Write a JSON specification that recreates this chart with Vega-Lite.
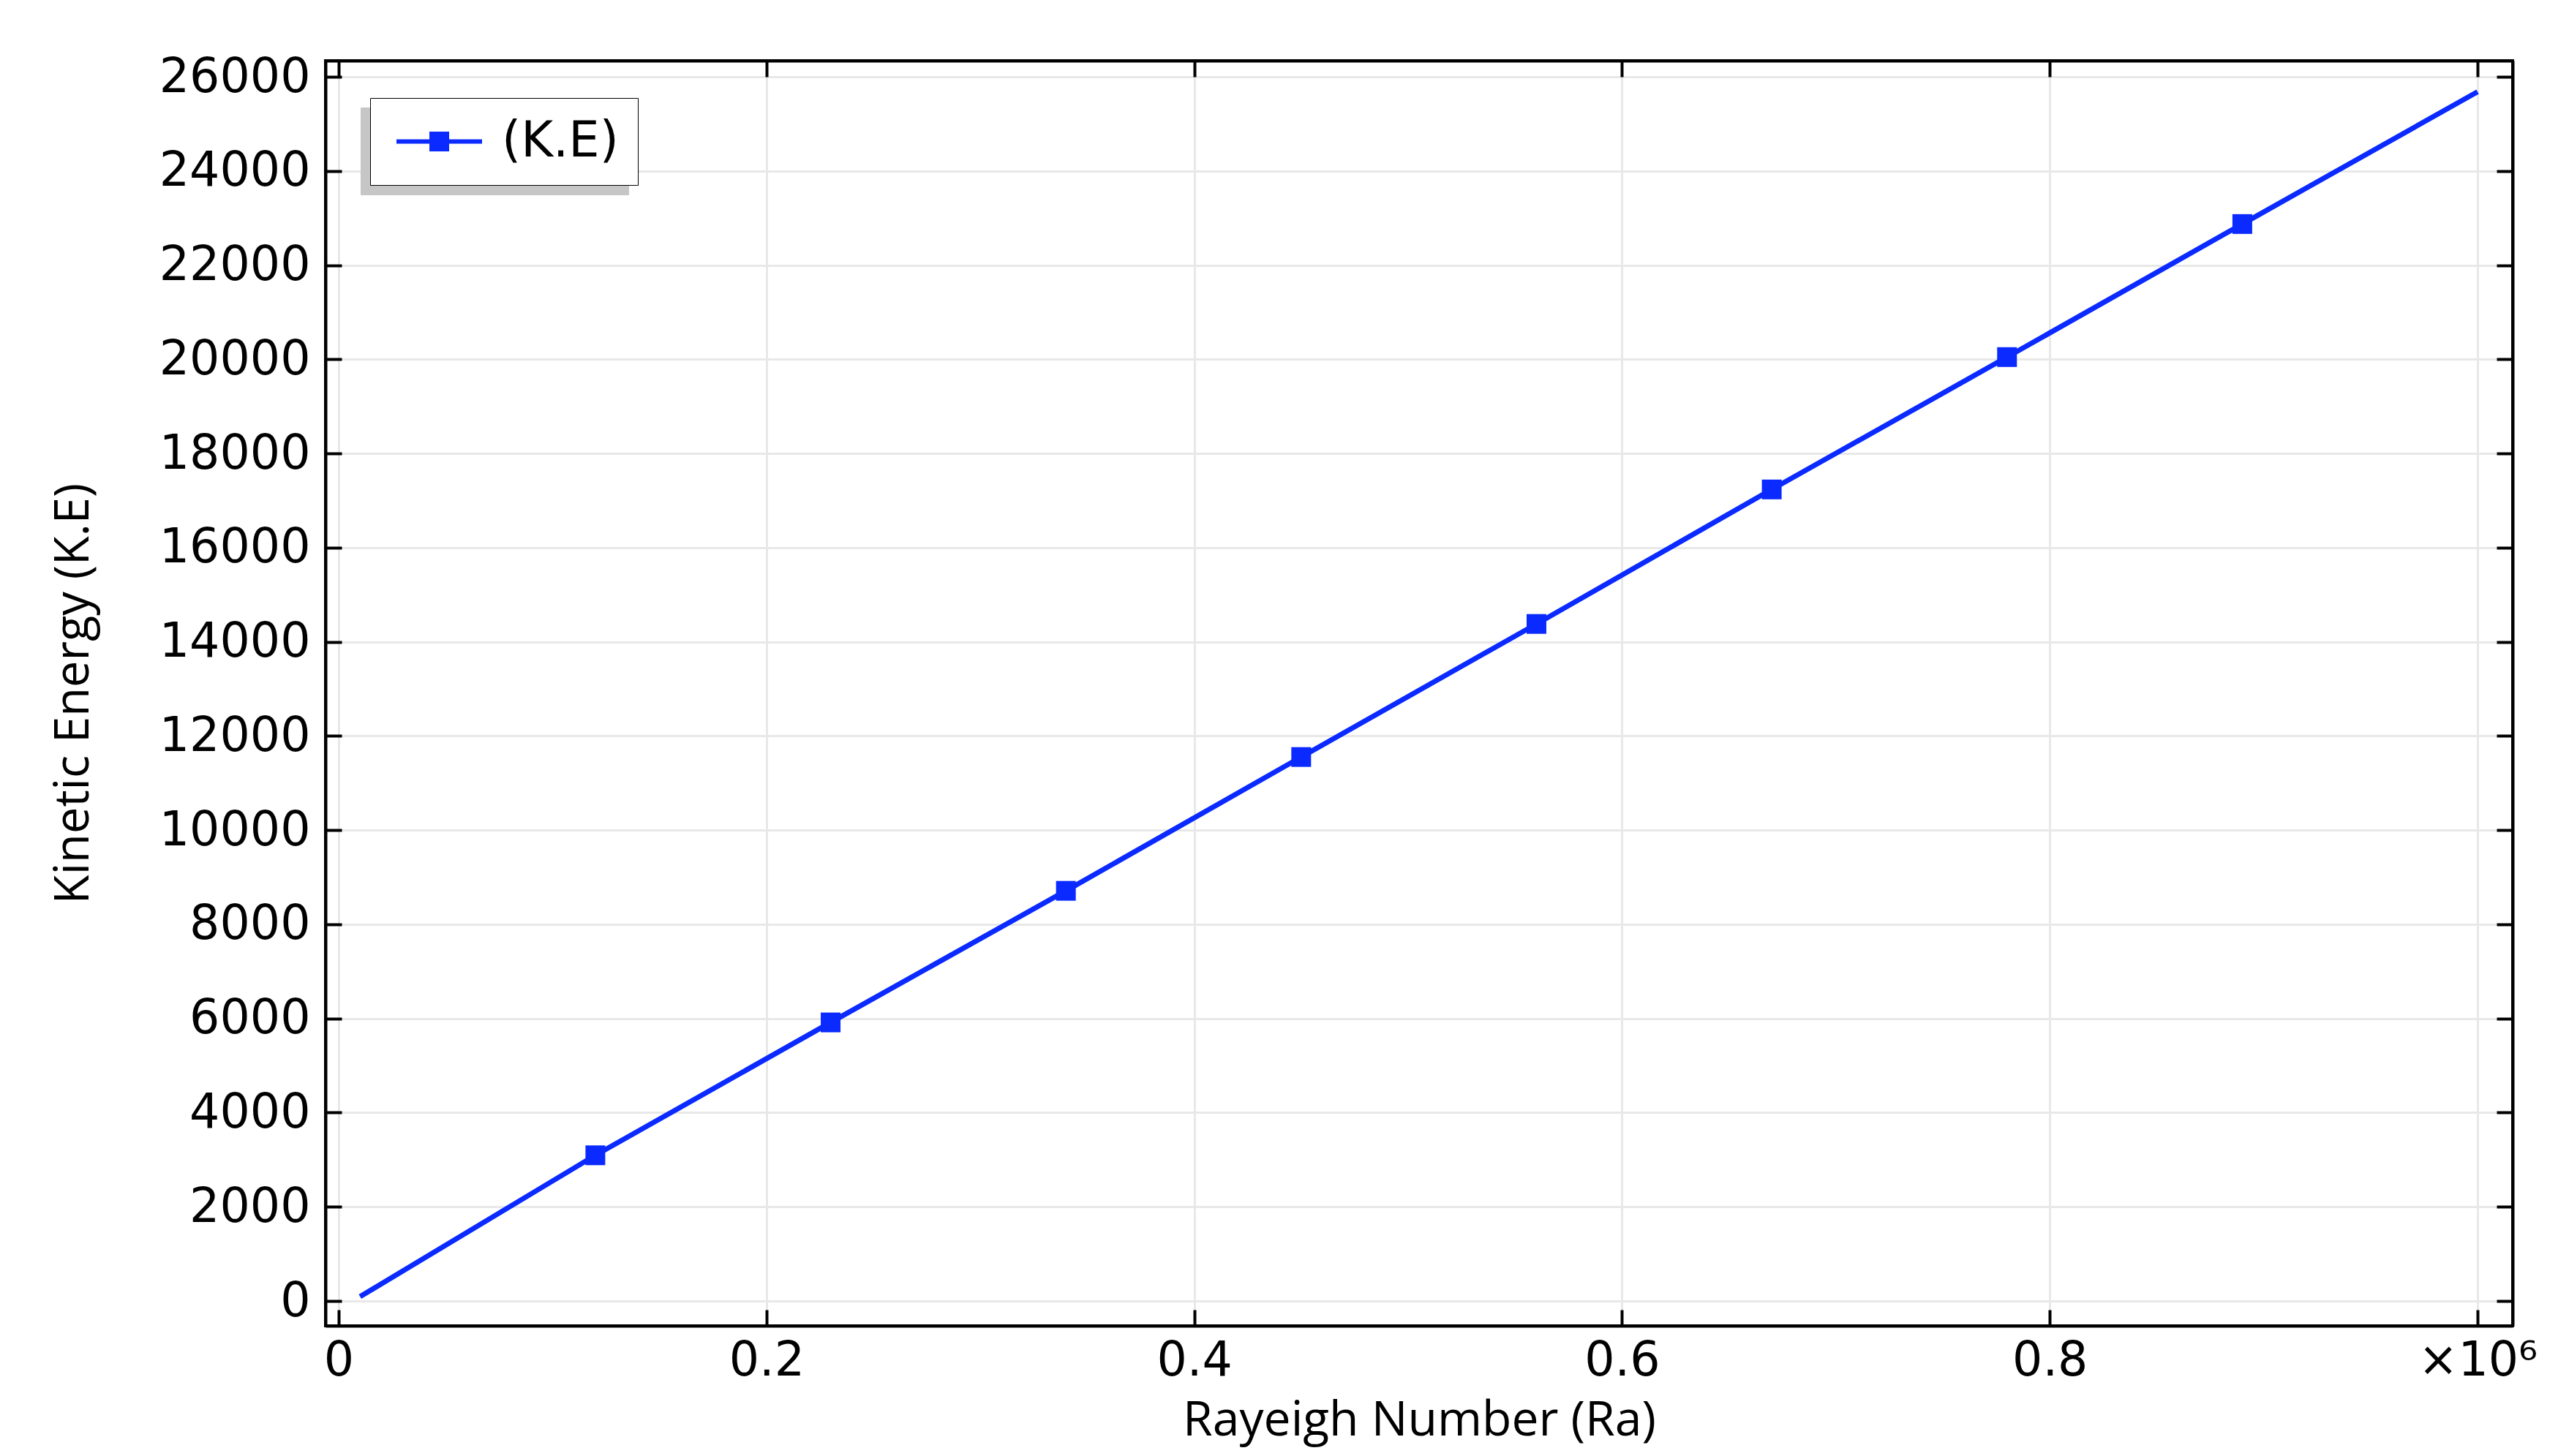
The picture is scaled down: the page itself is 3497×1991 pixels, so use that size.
{
  "$schema": "https://vega.github.io/schema/vega-lite/v6.json",
  "width": 2990,
  "height": 1730,
  "autosize": {"type": "none"},
  "padding": {"left": 445, "top": 83, "right": 62, "bottom": 178},
  "background": "white",
  "data": {
    "values": [
      {"Ra": 10000, "KE": 93},
      {"Ra": 120000, "KE": 3094},
      {"Ra": 230000, "KE": 5916},
      {"Ra": 340000, "KE": 8711},
      {"Ra": 450000, "KE": 11553},
      {"Ra": 560000, "KE": 14379},
      {"Ra": 670000, "KE": 17236},
      {"Ra": 780000, "KE": 20047},
      {"Ra": 890000, "KE": 22873},
      {"Ra": 1000000, "KE": 25683}
    ]
  },
  "config": {
    "view": {"stroke": "black", "strokeWidth": 4},
    "axis": {
      "domainColor": "black",
      "domainWidth": 4,
      "tickColor": "black",
      "tickWidth": 4,
      "tickSize": -22,
      "gridColor": "#e8e8e8",
      "gridWidth": 3,
      "labelFont": "DejaVu Sans",
      "labelFontSize": 65,
      "labelColor": "black",
      "labelFlush": false,
      "labelOverlap": false,
      "labelLimit": 0,
      "titleFont": "Open Sans",
      "titleColor": "black",
      "titleFontWeight": "normal",
      "titleLimit": 0
    }
  },
  "layer": [
    {
      "mark": {"type": "line", "color": "#0a2aff", "strokeWidth": 7, "clip": true},
      "encoding": {
        "x": {
          "field": "Ra",
          "type": "quantitative",
          "scale": {"domain": [-6160, 1016400], "nice": false, "zero": false},
          "axis": {
            "orient": "bottom",
            "values": [0, 200000, 400000, 600000, 800000, 1000000],
            "labelExpr": "datum.value == 1000000 ? '×10⁶' : format(datum.value / 1000000, '~g')",
            "labelPadding": 38,
            "title": "Rayeigh Number (Ra)",
            "titleFontSize": 66,
            "titleX": 1495,
            "titleY": 149,
            "titleBaseline": "alphabetic",
            "titleAlign": "center"
          }
        },
        "y": {
          "field": "KE",
          "type": "quantitative",
          "scale": {"domain": [-528, 26342], "nice": false, "zero": false},
          "axis": {
            "orient": "left",
            "values": [0, 2000, 4000, 6000, 8000, 10000, 12000, 14000, 16000, 18000, 20000, 22000, 24000, 26000],
            "format": "d",
            "labelPadding": 43,
            "title": "Kinetic Energy (K.E)",
            "titleFontSize": 65,
            "titleX": -345,
            "titleY": 865,
            "titleAngle": -90,
            "titleBaseline": "middle",
            "titleAlign": "center"
          }
        },
        "opacity": {
          "datum": "shadow",
          "scale": {"domain": ["shadow"], "range": [1]},
          "legend": {
            "orient": "none",
            "legendX": 48,
            "legendY": 64,
            "zindex": 0,
            "title": null,
            "strokeColor": "#c6c6c6",
            "fillColor": "#c6c6c6",
            "padding": 26,
            "symbolType": "M-1.95,-0.1H1.95V0.1H-1.95Z M-0.45,-0.45H0.45V0.45H-0.45Z",
            "symbolSize": 3600,
            "symbolOffset": 35,
            "symbolStrokeWidth": 0,
            "symbolOpacity": 0,
            "labelExpr": "''",
            "labelOffset": 212,
            "labelFont": "DejaVu Sans",
            "labelFontSize": 67,
            "labelOpacity": 0,
            "labelLimit": 0
          }
        }
      }
    },
    {
      "transform": [{"filter": "datum.Ra > 50000 && datum.Ra < 950000"}],
      "mark": {"type": "point", "shape": "square", "filled": true, "size": 729, "opacity": 1, "strokeWidth": 0},
      "encoding": {
        "x": {
          "field": "Ra",
          "type": "quantitative",
          "axis": {"orient": "top", "values": [0, 200000, 400000, 600000, 800000, 1000000], "labels": false, "grid": false, "title": null}
        },
        "y": {
          "field": "KE",
          "type": "quantitative",
          "axis": {"orient": "right", "values": [0, 2000, 4000, 6000, 8000, 10000, 12000, 14000, 16000, 18000, 20000, 22000, 24000, 26000], "labels": false, "grid": false, "title": null}
        },
        "color": {
          "datum": "(K.E)",
          "scale": {"domain": ["(K.E)"], "range": ["#0a2aff"]},
          "legend": {
            "orient": "none",
            "legendX": 61,
            "legendY": 51,
            "zindex": 1,
            "title": null,
            "strokeColor": "black",
            "fillColor": "white",
            "padding": 26,
            "symbolType": "M-1.95,-0.1H1.95V0.1H-1.95Z M-0.45,-0.45H0.45V0.45H-0.45Z",
            "symbolSize": 3600,
            "symbolOffset": 35,
            "symbolStrokeWidth": 0,
            "symbolOpacity": 1,
            "labelOffset": 52,
            "labelFont": "DejaVu Sans",
            "labelFontSize": 67,
            "labelColor": "black",
            "labelLimit": 0
          }
        }
      }
    }
  ],
  "resolve": {"axis": {"x": "independent", "y": "independent"}}
}
